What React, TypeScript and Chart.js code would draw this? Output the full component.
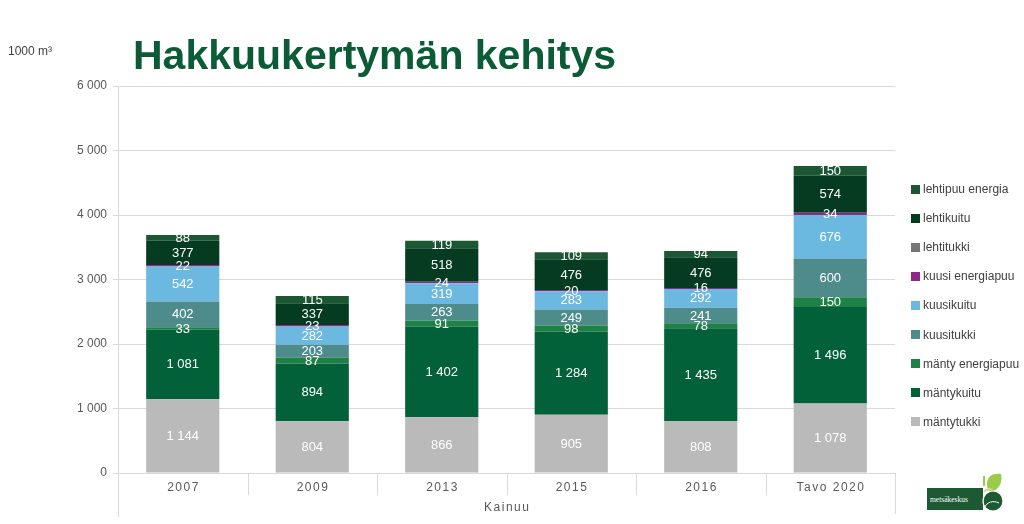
import React, { useEffect, useRef } from "react";
import { Chart, registerables } from "chart.js";

Chart.register(...registerables);

// ---- data ----
const categories = ["2007", "2009", "2013", "2015", "2016", "Tavo 2020"];
const groupLabel = "Kainuu";
const unitLabel = "1000 m³";
const titleText = "Hakkuukertymän kehitys";

const mantytukki = [1144, 804, 866, 905, 808, 1078];
const mantykuitu = [1081, 894, 1402, 1284, 1435, 1496];
const mantyEnergiapuu = [33, 87, 91, 98, 78, 150];
const kuusitukki = [402, 203, 263, 249, 241, 600];
const kuusikuitu = [542, 282, 319, 283, 292, 676];
const kuusiEnergiapuu = [22, 23, 24, 20, 16, 34];
const lehtitukki = [0, 0, 0, 0, 0, 0];
const lehtikuitu = [377, 337, 518, 476, 476, 574];
const lehtipuuEnergia = [88, 115, 119, 109, 94, 150];

const seriesNames = [
  "mäntytukki",
  "mäntykuitu",
  "mänty energiapuu",
  "kuusitukki",
  "kuusikuitu",
  "kuusi energiapuu",
  "lehtitukki",
  "lehtikuitu",
  "lehtipuu energia",
];
const seriesValues = [
  mantytukki,
  mantykuitu,
  mantyEnergiapuu,
  kuusitukki,
  kuusikuitu,
  kuusiEnergiapuu,
  lehtitukki,
  lehtikuitu,
  lehtipuuEnergia,
];
const seriesColors = [
  "#bababa",
  "#03613a",
  "#1e8145",
  "#4e8c8c",
  "#6bb9e1",
  "#8e2a86",
  "#767676",
  "#053b20",
  "#1b5733",
];

const yMin = 0;
const yMax = 6000;
const yStep = 1000;

const fmt = (n: number) => String(n).replace(/\B(?=(\d{3})+(?!\d))/g, " ");

const FONT = "'Liberation Sans', Arial, sans-serif";
const AXIS_COLOR = "#d9d9d9";
const TEXT_COLOR = "#595959";

const valueLabels = {
  id: "valueLabels",
  afterDatasetsDraw(chart: any) {
    const ctx = chart.ctx;
    ctx.save();
    ctx.font = `13px ${FONT}`;
    ctx.fillStyle = "#ffffff";
    ctx.textAlign = "center";
    ctx.textBaseline = "middle";
    chart.data.datasets.forEach((ds: any, di: number) => {
      const meta = chart.getDatasetMeta(di);
      meta.data.forEach((el: any, i: number) => {
        const v = ds.data[i];
        if (!v) return;
        ctx.fillText(fmt(v), el.x, (el.y + el.base) / 2 + 0.5);
      });
    });
    ctx.restore();
  },
};

const categoryAxis = {
  id: "categoryAxis",
  afterDraw(chart: any) {
    const ctx = chart.ctx;
    const x = chart.scales.x;
    const area = chart.chartArea;
    const n = categories.length;
    const w = (area.right - area.left) / n;
    ctx.save();
    ctx.strokeStyle = AXIS_COLOR;
    ctx.lineWidth = 1;
    for (let i = 1; i < n; i++) {
      const px = Math.round(area.left + i * w) + 0.5;
      ctx.beginPath();
      ctx.moveTo(px, area.bottom);
      ctx.lineTo(px, area.bottom + 22);
      ctx.stroke();
    }
    const lx = Math.round(area.left) + 0.5;
    const rx = Math.round(area.right) + 0.5;
    ctx.beginPath();
    ctx.moveTo(lx, area.bottom);
    ctx.lineTo(lx, area.bottom + 44);
    ctx.moveTo(rx, area.bottom);
    ctx.lineTo(rx, area.bottom + 41);
    ctx.stroke();
    ctx.fillStyle = TEXT_COLOR;
    ctx.font = `12px ${FONT}`;
    (ctx as any).letterSpacing = "1.5px";
    ctx.textAlign = "center";
    ctx.textBaseline = "middle";
    categories.forEach((c, i) => {
      const px = x.getPixelForValue(i);
      ctx.fillText(c, px + 0.75, area.bottom + 14.5);
    });
    ctx.fillText(groupLabel, (area.left + area.right) / 2 + 0.75, area.bottom + 35);
    (ctx as any).letterSpacing = "0px";
    ctx.restore();
  },
};

function ChartCanvas() {
  const ref = useRef<HTMLCanvasElement | null>(null);
  useEffect(() => {
    if (!ref.current) return;
    const chart = new Chart(ref.current, {
      type: "bar",
      data: {
        labels: categories,
        datasets: seriesNames.map((name, i) => ({
          label: name,
          data: seriesValues[i],
          backgroundColor: seriesColors[i],
          borderWidth: 0,
          categoryPercentage: 1,
          barPercentage: 0.565,
        })),
      },
      options: {
        responsive: false,
        animation: false,
        layout: { padding: { left: 0, right: 129, top: 86, bottom: 0 } },
        plugins: {
          legend: { display: false },
          tooltip: { enabled: false },
          title: { display: false },
        },
        scales: {
          x: {
            stacked: true,
            grid: { display: false },
            border: { display: false },
            ticks: { display: false },
            afterFit(scale: any) {
              scale.height = 51;
            },
          },
          y: {
            stacked: true,
            min: yMin,
            max: yMax,
            grid: { color: AXIS_COLOR, tickLength: 5, lineWidth: 1 },
            border: { display: true, color: AXIS_COLOR },
            ticks: {
              stepSize: yStep,
              padding: 6,
              color: TEXT_COLOR,
              font: { family: FONT, size: 12 },
              callback: (v: any) => fmt(Number(v)),
            },
            afterFit(scale: any) {
              scale.width = 118;
            },
          },
        },
      },
      plugins: [valueLabels, categoryAxis],
    });
    return () => chart.destroy();
  }, []);
  return (
    <canvas
      ref={ref}
      width={1024}
      height={524}
      style={{ position: "absolute", left: 0, top: 0, width: 1024, height: 524 }}
    />
  );
}

function Legend() {
  const order = seriesNames.map((_, i) => i).reverse();
  return (
    <div style={{ position: "absolute", left: 911, top: 180, fontFamily: FONT, fontSize: 12, color: "#404040" }}>
      {order.map((i, k) => (
        <div
          key={seriesNames[i]}
          style={{ position: "absolute", top: k * 29.1, left: 0, height: 18, display: "flex", alignItems: "center", whiteSpace: "nowrap" }}
        >
          <span style={{ display: "inline-block", width: 9, height: 9, background: seriesColors[i], marginRight: 3 }} />
          <span>{seriesNames[i]}</span>
        </div>
      ))}
    </div>
  );
}

function Logo() {
  return (
    <svg width={82} height={46} style={{ position: "absolute", left: 925, top: 470 }} viewBox="0 0 82 46">
      <rect x={2} y={18} width={56} height={22} fill="#1d5a33" />
      <text x={5} y={32} fill="#ffffff" fontSize={7.5} fontFamily="'Liberation Serif', serif">metsäkeskus</text>
      <path d="M58 16 L58 6 L60 6 L60 16 Z" fill="#9acb4a" />
      <path d="M62 14 C62 6 68 3 76 4 C78 12 74 20 66 22 C63 20 62 18 62 14 Z" fill="#9acb4a" />
      <path d="M58 22 C60 18 64 17 68 19 C64 20 61 22 58 22 Z" fill="#c9e29a" />
      <circle cx={68} cy={31} r={10} fill="#1d5a33" stroke="#ffffff" strokeWidth={1.2} />
      <path d="M59 38 C62 32 68 30 74 33" stroke="#ffffff" strokeWidth={1} fill="none" />
    </svg>
  );
}

export default function App() {
  return (
    <div style={{ position: "absolute", left: 0, top: 0, width: 1024, height: 524, background: "#ffffff", overflow: "hidden" }}>
      <ChartCanvas />
      <div style={{ position: "absolute", left: 8, top: 44, fontFamily: FONT, fontSize: 12, color: "#404040", whiteSpace: "nowrap" }}>
        {unitLabel}
      </div>
      <div
        style={{
          position: "absolute",
          left: 133,
          top: 35,
          fontFamily: FONT,
          fontWeight: "bold",
          fontSize: 41,
          lineHeight: 1,
          color: "#0b5b36",
          whiteSpace: "nowrap",
        }}
      >
        {titleText}
      </div>
      <Legend />
      <Logo />
    </div>
  );
}
